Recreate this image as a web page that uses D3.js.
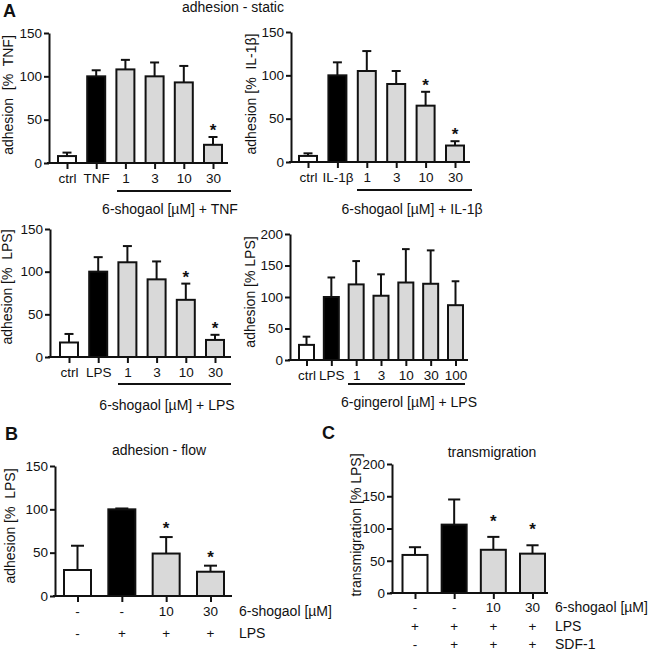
<!DOCTYPE html>
<html><head><meta charset="utf-8">
<script src="https://cdn.jsdelivr.net/npm/d3@7"></script>
<style>body{margin:0;background:#fff}svg{display:block}text{font-family:"Liberation Sans",Arial,sans-serif;fill:#111}</style>
</head><body>
<script>
// ---------- DATA ----------
const a1Cats = ["ctrl","TNF","1","3","10","30"];
const a1Vals = [8,100,108,100,93,21];
const a1Sd   = [4,7,11,16,19,9];
const a1Star = [0,0,0,0,0,1];
const a1Grp  = ["ctrl","stim","treat","treat","treat","treat"];

const a2Cats = ["ctrl","IL-1β","1","3","10","30"];
const a2Vals = [7,100,105,90,65,19];
const a2Sd   = [3,15,23,15,16,5];
const a2Star = [0,0,0,0,1,1];
const a2Grp  = ["ctrl","stim","treat","treat","treat","treat"];

const a3Cats = ["ctrl","LPS","1","3","10","30"];
const a3Vals = [17,100,111,91,67,20];
const a3Sd   = [10,17,19,21,19,6];
const a3Star = [0,0,0,0,1,1];
const a3Grp  = ["ctrl","stim","treat","treat","treat","treat"];

const a4Cats = ["ctrl","LPS","1","3","10","30","100"];
const a4Vals = [24,100,120,102,123,121,87];
const a4Sd   = [13,31,37,34,53,53,38];
const a4Star = [0,0,0,0,0,0,0];
const a4Grp  = ["ctrl","stim","treat","treat","treat","treat","treat"];

const bShogaol = ["-","-","10","30"];
const bLps     = ["-","+","+","+"];
const bVals = [30,100,49,28];
const bSd   = [28,1,19,7];
const bStar = [0,0,1,1];
const bGrp  = ["ctrl","stim","treat","treat"];

const cShogaol = ["-","-","10","30"];
const cLps     = ["+","+","+","+"];
const cSdf     = ["-","+","+","+"];
const cVals = [59,106,67,61];
const cSd   = [12,39,20,13];
const cStar = [0,0,1,1];
const cGrp  = ["ctrl","stim","treat","treat"];

const ticks150 = [0,50,100,150];
const ticks200 = [0,50,100,150,200];

// ---------- DRAW ----------
const W = 650, H = 656;
const TF = 13.5;
const svg = d3.select("body").append("svg").attr("width", W).attr("height", H);
const fill = d3.scaleOrdinal().domain(["ctrl","stim","treat"]).range(["#ffffff","#000000","#d9d9d9"]);

function panel(c) {
  const g = svg.append("g");
  const n = c.vals.length;
  const y = d3.scaleLinear().domain([0, c.yMax]).range([c.y0, c.yTop]);
  const x = d3.scalePoint().domain(d3.range(n)).range([c.c0, c.c1]);
  const idx = d3.range(n);

  // error bars (upper only)
  const cap = c.bw * 0.45;
  g.selectAll(".err").data(idx).join("line")
    .attr("x1", i => x(i)).attr("x2", i => x(i))
    .attr("y1", i => y(c.vals[i])).attr("y2", i => y(c.vals[i] + c.sd[i]))
    .attr("stroke", "#111").attr("stroke-width", 2);
  g.selectAll(".cap").data(idx).join("line")
    .attr("x1", i => x(i) - cap/2).attr("x2", i => x(i) + cap/2)
    .attr("y1", i => y(c.vals[i] + c.sd[i])).attr("y2", i => y(c.vals[i] + c.sd[i]))
    .attr("stroke", "#111").attr("stroke-width", 2);

  // bars
  g.selectAll(".bar").data(idx).join("rect")
    .attr("x", i => x(i) - c.bw/2 + 1).attr("width", c.bw - 2)
    .attr("y", i => y(c.vals[i])).attr("height", i => y(0) - y(c.vals[i]))
    .attr("fill", i => fill(c.grp[i])).attr("stroke", "#111").attr("stroke-width", 2);

  // stars
  g.selectAll(".star").data(idx.filter(i => c.star[i])).join("text")
    .attr("x", i => x(i)).attr("y", i => y(c.vals[i] + c.sd[i]) - c.starOff)
    .attr("text-anchor", "middle").attr("font-size", 17).attr("font-weight", "bold")
    .text("*");

  // y axis
  const ya = g.append("g").attr("transform", `translate(${c.ax},0)`)
    .call(d3.axisLeft(y).tickValues(c.ticks).tickSize(5).tickPadding(2).tickSizeOuter(0));
  ya.select(".domain").attr("stroke", "#111").attr("stroke-width", 2);
  ya.selectAll(".tick line").attr("stroke", "#111").attr("stroke-width", 2);
  ya.selectAll(".tick text").attr("font-size", TF).attr("fill", "#111")
    .style("font-family", '"Liberation Sans",Arial,sans-serif');

  // x axis
  const xa = g.append("g").attr("transform", `translate(0,${c.y0})`)
    .call(d3.axisBottom(x).tickSize(6).tickPadding(4)
      .tickFormat(i => c.cats ? c.cats[i] : ""));
  xa.select(".domain").remove();
  xa.selectAll(".tick line").attr("stroke", "#111").attr("stroke-width", 2);
  xa.selectAll(".tick text").attr("font-size", TF).attr("fill", "#111")
    .style("font-family", '"Liberation Sans",Arial,sans-serif');
  g.append("line").attr("x1", c.ax - 2).attr("x2", c.xEnd)
    .attr("y1", c.y0).attr("y2", c.y0).attr("stroke", "#111").attr("stroke-width", 2);

  // y label
  g.append("text").attr("transform", `translate(${c.ylx},${c.yly}) rotate(-90)`)
    .attr("text-anchor", "middle").attr("font-size", 14).style("white-space", "pre")
    .text(c.ylabel);

  // group underline + label
  if (c.ul) {
    g.append("line").attr("x1", c.ul[0]).attr("x2", c.ul[1]).attr("y1", c.ul[2]).attr("y2", c.ul[2])
      .attr("stroke", "#111").attr("stroke-width", 2);
    g.append("text").attr("x", c.gl[0]).attr("y", c.gl[1]).attr("text-anchor", "middle")
      .attr("font-size", 14).text(c.glabel);
  }
  // rows of +/- labels
  if (c.rows) {
    c.rows.forEach((r, k) => {
      const by = c.rowY0 + k * c.rowGap;
      g.selectAll(".row" + k).data(idx).join("text")
        .attr("x", i => x(i)).attr("y", by).attr("text-anchor", "middle")
        .attr("font-size", TF).text(i => r.vals[i]);
      g.append("text").attr("x", c.rowX).attr("y", by).attr("font-size", 14).text(r.name);
    });
  }
  if (c.title) {
    g.append("text").attr("x", c.title[0]).attr("y", c.title[1]).attr("text-anchor", "middle")
      .attr("font-size", 14).text(c.title[2]);
  }
}

panel({cats:a1Cats, vals:a1Vals, sd:a1Sd, star:a1Star, grp:a1Grp, yMax:150, ticks:ticks150,
  ax:49, y0:163, yTop:33, c0:67, c1:213, bw:20, xEnd:228, starOff:1,
  ylx:13, yly:95, ylabel:"adhesion  [%  TNF]",
  ul:[117,231,191], gl:[170,214], glabel:"6-shogaol [µM] + TNF"});

panel({cats:a2Cats, vals:a2Vals, sd:a2Sd, star:a2Star, grp:a2Grp, yMax:150, ticks:ticks150,
  ax:291, y0:162, yTop:32, c0:308, c1:455, bw:20, xEnd:470, starOff:1,
  ylx:256, yly:94, ylabel:"adhesion [%  IL-1β]",
  ul:[357,472,190], gl:[412,214], glabel:"6-shogaol [µM] + IL-1β"});

panel({cats:a3Cats, vals:a3Vals, sd:a3Sd, star:a3Star, grp:a3Grp, yMax:150, ticks:ticks150,
  ax:50, y0:357, yTop:229, c0:69, c1:215, bw:20, xEnd:231, starOff:1,
  ylx:12, yly:287, ylabel:"adhesion [%  LPS]",
  ul:[118,231,384], gl:[167,410], glabel:"6-shogaol [µM] + LPS"});

panel({cats:a4Cats, vals:a4Vals, sd:a4Sd, star:a4Star, grp:a4Grp, yMax:200, ticks:ticks200,
  ax:290, y0:360, yTop:234, c0:306.5, c1:455.5, bw:17, xEnd:468, starOff:1,
  ylx:255, yly:292, ylabel:"adhesion [% LPS]",
  ul:[348,465,384], gl:[409,407], glabel:"6-gingerol [µM] + LPS"});

panel({cats:null, vals:bVals, sd:bSd, star:bStar, grp:bGrp, yMax:150, ticks:ticks150,
  ax:55, y0:596, yTop:466, c0:77.5, c1:210.5, bw:29, xEnd:232, starOff:3,
  ylx:15, yly:526, ylabel:"adhesion [%  LPS]",
  rows:[{name:"6-shogaol [µM]", vals:bShogaol},{name:"LPS", vals:bLps}],
  rowY0:616, rowGap:22, rowX:239, title:[159,455,"adhesion - flow"]});

panel({cats:null, vals:cVals, sd:cSd, star:cStar, grp:cGrp, yMax:200, ticks:ticks200,
  ax:392, y0:593, yTop:464, c0:415, c1:532.5, bw:27, xEnd:548, starOff:10,
  ylx:361, yly:525, ylabel:"transmigration [% LPS]",
  rows:[{name:"6-shogaol [µM]", vals:cShogaol},{name:"LPS", vals:cLps},{name:"SDF-1", vals:cSdf}],
  rowY0:612, rowGap:18.5, rowX:555, title:[492,457,"transmigration"]});

// panel letters and section title
svg.append("text").attr("x", 3).attr("y", 17).attr("font-size", 18).attr("font-weight", "bold").text("A");
svg.append("text").attr("x", 5).attr("y", 440).attr("font-size", 18).attr("font-weight", "bold").text("B");
svg.append("text").attr("x", 322).attr("y", 439).attr("font-size", 18).attr("font-weight", "bold").text("C");
svg.append("text").attr("x", 233).attr("y", 12).attr("text-anchor", "middle").attr("font-size", 14).text("adhesion - static");
</script>
</body></html>
